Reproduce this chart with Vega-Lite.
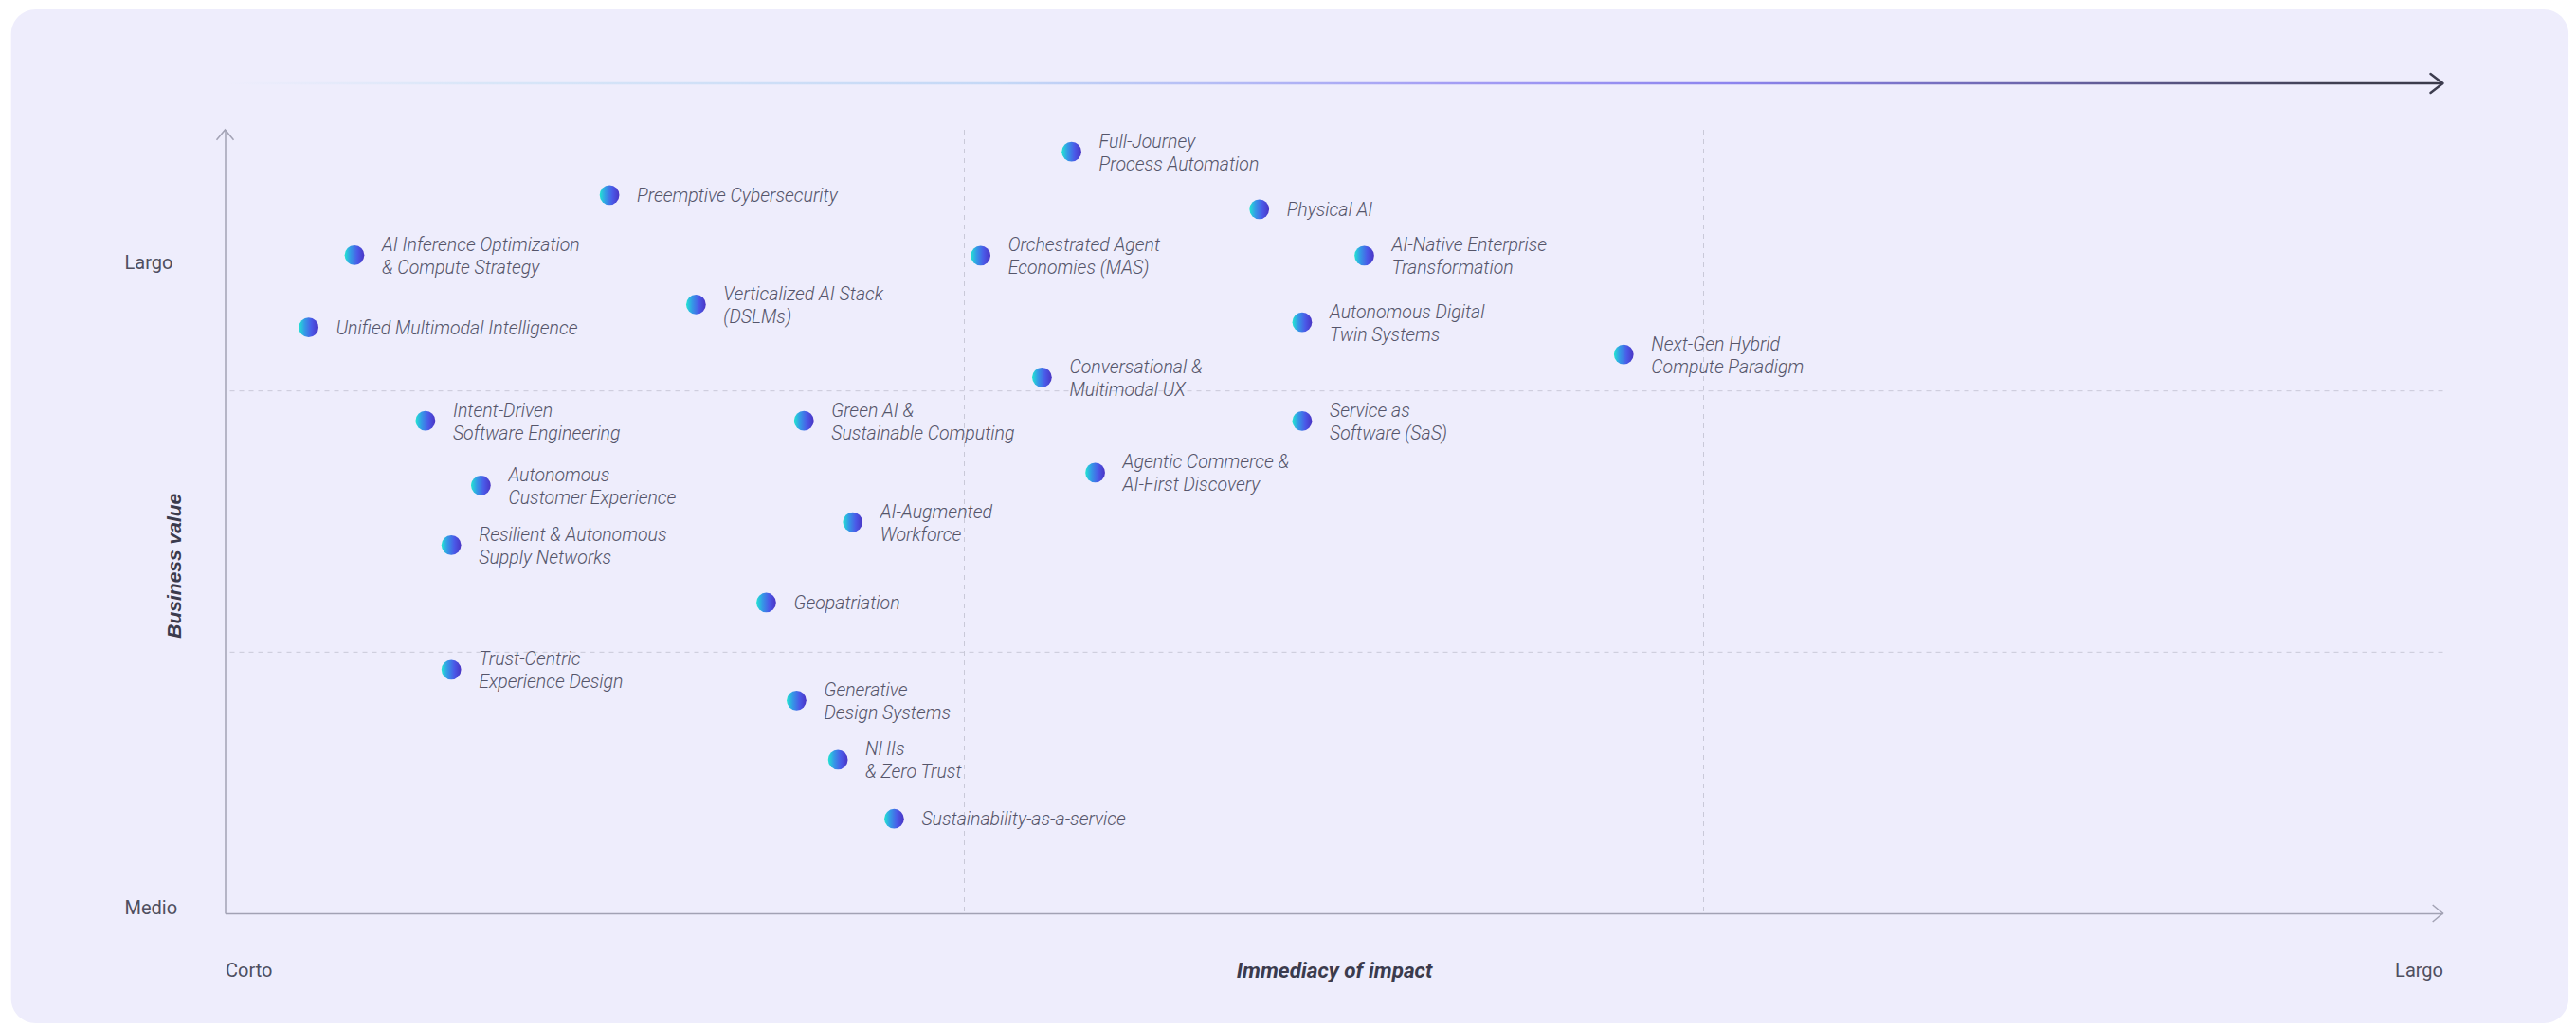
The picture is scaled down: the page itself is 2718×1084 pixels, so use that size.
{
  "$schema": "https://vega.github.io/schema/vega-lite/v6.json",
  "autosize": {"type": "none"},
  "width": 2340,
  "height": 827,
  "padding": {"left": 237.5, "top": 137, "right": 140.5, "bottom": 120},
  "background": "#ffffff",
  "view": {"stroke": null},
  "layer": [
    {
      "data": {"values": [{}]},
      "mark": {"type": "rect", "cornerRadius": 26, "color": "#eeedfc"},
      "encoding": {
        "x": {"datum": -0.2895, "type": "quantitative", "scale": {"domain": [0, 3], "nice": false, "zero": false}},
        "x2": {"datum": 3.170},
        "y": {"datum": 3.4607, "type": "quantitative", "scale": {"domain": [0, 3], "nice": false, "zero": false}},
        "y2": {"datum": -0.4208}
      }
    },
    {
      "data": {"values": [{"v": 1}, {"v": 2}]},
      "mark": {"type": "rule", "color": "#c9c9d8", "strokeWidth": 1, "strokeDash": [5, 5]},
      "encoding": {"x": {"field": "v", "type": "quantitative"}}
    },
    {
      "data": {"values": [{"v": 1}, {"v": 2}]},
      "mark": {"type": "rule", "color": "#c9c9d8", "strokeWidth": 1, "strokeDash": [5, 5]},
      "encoding": {"y": {"field": "v", "type": "quantitative"}}
    },
    {
      "data": {"values": [{}]},
      "mark": {
        "type": "rect",
        "color": {
          "gradient": "linear",
          "x1": 0, "y1": 0, "x2": 1, "y2": 0,
          "stops": [
            {"offset": 0, "color": "#eeedfc"},
            {"offset": 0.12, "color": "#d8e6f8"},
            {"offset": 0.35, "color": "#c4d8f6"},
            {"offset": 0.55, "color": "#a49ef4"},
            {"offset": 0.68, "color": "#8c84ee"},
            {"offset": 0.82, "color": "#6a64a8"},
            {"offset": 0.95, "color": "#404052"},
            {"offset": 1, "color": "#3a3a4a"}
          ]
        }
      },
      "encoding": {
        "x": {"datum": 0, "type": "quantitative"},
        "x2": {"datum": 3},
        "y": {"datum": 3.1732, "type": "quantitative"},
        "y2": {"datum": 3.1822}
      }
    },
    {
      "data": {"values": [{}]},
      "mark": {"type": "point", "shape": "M -1.3 -1 L 0 0 L -1.3 1", "size": 400, "filled": false, "stroke": "#3d3d4f", "strokeWidth": 2.5, "opacity": 1, "strokeCap": "round", "strokeJoin": "round"},
      "encoding": {"x": {"datum": 3, "type": "quantitative"}, "y": {"datum": 3.1777, "type": "quantitative"}}
    },
    {
      "data": {"values": [{}]},
      "mark": {"type": "point", "shape": "M -1.2 -1 L 0 0 L -1.2 1", "size": 324, "filled": false, "stroke": "#a2a2b4", "strokeWidth": 1.5, "opacity": 1},
      "encoding": {"x": {"datum": 3, "type": "quantitative"}, "y": {"datum": 0, "type": "quantitative"}}
    },
    {
      "data": {"values": [{}]},
      "mark": {"type": "point", "shape": "M -1 1.2 L 0 0 L 1 1.2", "size": 324, "filled": false, "stroke": "#a2a2b4", "strokeWidth": 1.5, "opacity": 1},
      "encoding": {"x": {"datum": 0, "type": "quantitative"}, "y": {"datum": 3, "type": "quantitative"}}
    },
    {
      "data": {"name": "trends", "values": [
        {"trend": "Preemptive Cybersecurity", "immediacy": 0.520, "value": 2.750},
        {"trend": "AI Inference Optimization\n& Compute Strategy", "immediacy": 0.175, "value": 2.520},
        {"trend": "Unified Multimodal Intelligence", "immediacy": 0.113, "value": 2.243},
        {"trend": "Verticalized AI Stack\n(DSLMs)", "immediacy": 0.637, "value": 2.331},
        {"trend": "Full-Journey\nProcess Automation", "immediacy": 1.145, "value": 2.916},
        {"trend": "Physical AI", "immediacy": 1.399, "value": 2.696},
        {"trend": "Orchestrated Agent\nEconomies (MAS)", "immediacy": 1.022, "value": 2.518},
        {"trend": "AI-Native Enterprise\nTransformation", "immediacy": 1.541, "value": 2.518},
        {"trend": "Autonomous Digital\nTwin Systems", "immediacy": 1.457, "value": 2.263},
        {"trend": "Next-Gen Hybrid\nCompute Paradigm", "immediacy": 1.892, "value": 2.140},
        {"trend": "Conversational &\nMultimodal UX", "immediacy": 1.105, "value": 2.052},
        {"trend": "Intent-Driven\nSoftware Engineering", "immediacy": 0.271, "value": 1.886},
        {"trend": "Green AI &\nSustainable Computing", "immediacy": 0.783, "value": 1.886},
        {"trend": "Service as\nSoftware (SaS)", "immediacy": 1.457, "value": 1.885},
        {"trend": "Agentic Commerce &\nAI-First Discovery", "immediacy": 1.177, "value": 1.687},
        {"trend": "Autonomous\nCustomer Experience", "immediacy": 0.346, "value": 1.638},
        {"trend": "AI-Augmented\nWorkforce", "immediacy": 0.849, "value": 1.498},
        {"trend": "Resilient & Autonomous\nSupply Networks", "immediacy": 0.306, "value": 1.410},
        {"trend": "Geopatriation", "immediacy": 0.732, "value": 1.190},
        {"trend": "Trust-Centric\nExperience Design", "immediacy": 0.306, "value": 0.933},
        {"trend": "Generative\nDesign Systems", "immediacy": 0.773, "value": 0.815},
        {"trend": "NHIs\n& Zero Trust", "immediacy": 0.829, "value": 0.588},
        {"trend": "Sustainability-as-a-service", "immediacy": 0.905, "value": 0.362}
      ]},
      "encoding": {
        "x": {
          "field": "immediacy",
          "type": "quantitative",
          "scale": {"domain": [0, 3], "nice": false, "zero": false},
          "axis": {
            "orient": "bottom",
            "zindex": 2,
            "values": [0, 3],
            "labelExpr": "datum.value == 0 ? 'Corto' : 'Largo'",
            "labelFlush": true,
            "labelFont": "Roboto",
            "labelFontSize": 20,
            "labelColor": "#4f4f60",
            "labelPadding": 50,
            "labelBaseline": "top",
            "ticks": false,
            "tickSize": 0,
            "grid": false,
            "domain": true,
            "domainColor": "#a2a2b4",
            "domainWidth": 1.5,
            "title": "Immediacy of impact",
            "titleFont": "Roboto",
            "titleFontSize": 22.5,
            "titleFontStyle": "italic",
            "titleFontWeight": "bold",
            "titleColor": "#3b3b4d",
            "titleY": 60,
            "titleBaseline": "middle"
          }
        },
        "y": {
          "field": "value",
          "type": "quantitative",
          "scale": {"domain": [0, 3], "nice": false, "zero": false},
          "axis": {
            "orient": "left",
            "zindex": 2,
            "values": [0, 2.47],
            "labelExpr": "datum.value == 0 ? 'Medio' : 'Largo'",
            "labelAlign": "left",
            "labelBaseline": "alphabetic",
            "labelFont": "Roboto",
            "labelFontSize": 20,
            "labelColor": "#4f4f60",
            "labelPadding": 106.5,
            "ticks": false,
            "tickSize": 0,
            "grid": false,
            "domain": true,
            "domainColor": "#a2a2b4",
            "domainWidth": 1.5,
            "title": "Business value",
            "titleFont": "Liberation Sans",
            "titleFontSize": 21,
            "titleFontStyle": "italic",
            "titleFontWeight": "bold",
            "titleColor": "#3b3b4d",
            "titleAngle": 270,
            "titleAlign": "center",
            "titleBaseline": "alphabetic",
            "titleX": -47,
            "titleY": 459.7
          }
        }
      },
      "layer": [
        {
          "mark": {
            "type": "point",
            "filled": true,
            "size": 430,
            "opacity": 1,
            "strokeWidth": 0,
            "fill": {
              "gradient": "linear",
              "x1": 0, "y1": 0, "x2": 1, "y2": 0,
              "stops": [
                {"offset": 0, "color": "#22e6d2"},
                {"offset": 0.3, "color": "#349ae6"},
                {"offset": 0.65, "color": "#4a5ae8"},
                {"offset": 1, "color": "#4a35c4"}
              ]
            }
          }
        },
        {
          "transform": [{"filter": "indexof(datum.trend, '\\n') < 0"}],
          "mark": {
            "type": "text",
            "align": "left",
            "baseline": "middle",
            "dx": 29,
            "dy": 1,
            "font": "Roboto",
            "fontStyle": "italic",
            "fontWeight": 300,
            "fontSize": 19.5,
            "color": "#55556a"
          },
          "encoding": {"text": {"field": "trend"}}
        },
        {
          "transform": [{"filter": "indexof(datum.trend, '\\n') >= 0"}],
          "mark": {
            "type": "text",
            "align": "left",
            "baseline": "middle",
            "dx": 29,
            "dy": -10.5,
            "lineBreak": "\n",
            "lineHeight": 24,
            "font": "Roboto",
            "fontStyle": "italic",
            "fontWeight": 300,
            "fontSize": 19.5,
            "color": "#55556a"
          },
          "encoding": {"text": {"field": "trend"}}
        }
      ]
    }
  ]
}
